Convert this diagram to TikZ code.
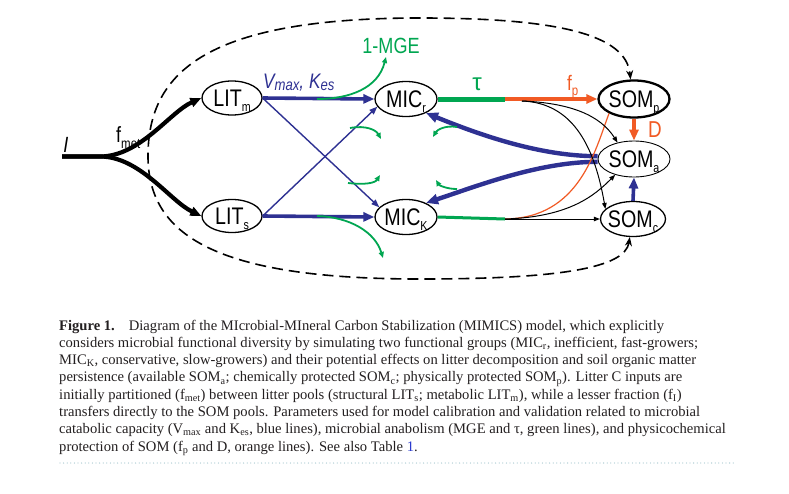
\documentclass[tikz,border=0pt]{standalone}
\usepackage{fontspec}
\setmainfont{Liberation Serif}
\newfontfamily\dsf[FakeStretch=0.82]{Liberation Sans}
\newfontfamily\rsf{Liberation Sans}
\usetikzlibrary{shapes.geometric,arrows.meta,calc}
\definecolor{mblue}{HTML}{2E3192}
\definecolor{mgreen}{HTML}{00A651}
\definecolor{morange}{HTML}{F15A24}
\definecolor{capcol}{HTML}{231F20}
\definecolor{dotcol}{HTML}{A9C9D1}
\definecolor{linkblue}{HTML}{2B3BCE}
\newcommand\poolname[2]{\raisebox{-8pt}[0pt][0pt]{\makebox[0pt]{\dsf\fontsize{24}{24}\selectfont #1\raisebox{-5pt}{\fontsize{13}{13}\selectfont #2}}}}
\begin{document}
\begin{tikzpicture}[x=1pt,y=-1pt,
  pool/.style={ellipse,draw,line width=1.3pt,inner sep=0pt,minimum width=62pt,minimum height=35pt},
  bthick/.style={mblue,line width=3.6pt,-{Triangle[length=11pt,width=9pt]}},
  bcurve/.style={mblue,line width=4.4pt,-{Triangle[length=12pt,width=10pt]}},
  bthin/.style={mblue,line width=1.4pt,-{Triangle[length=8pt,width=6pt]}},
  othick/.style={morange,line width=3.6pt,-{Triangle[length=11pt,width=9pt]}},
  othin/.style={morange,line width=1.2pt},
  gthick/.style={mgreen,line width=5pt},
  gmid/.style={mgreen,line width=3pt},
  gthin/.style={mgreen,line width=1.8pt,-{Triangle[length=6pt,width=5pt]}},
  kthin/.style={black,line width=1pt,-{Triangle[length=6pt,width=4.5pt]}},
  kthick/.style={black,line width=4.2pt,-{Triangle[length=11pt,width=9pt]}},
  dashloop/.style={black,line width=1.6pt,dash pattern=on 11pt off 6pt,
     {Stealth[length=9pt,width=7pt]}-{Stealth[length=9pt,width=7pt]}},
  capline/.style={anchor=base west,inner sep=0pt,text=capcol,font=\fontsize{14.6}{17}\selectfont}
]
\fill[white] (0,0) rectangle (789,493);
\useasboundingbox (0,0) rectangle (789,493);

% pools
\node[pool,minimum width=60pt,minimum height=34pt] (LITm) at (232,98) {\poolname{LIT}{m}};
\node[pool,minimum width=60pt,minimum height=33pt] (LITs) at (232,216) {\poolname{LIT}{s}};
\node[pool] (MICr) at (406,99) {\poolname{MIC}{r}};
\node[pool] (MICK) at (406,217) {\poolname{MIC}{K}};
\node[pool,line width=2.3pt,minimum width=71pt,minimum height=37pt] (SOMp) at (634,99) {\poolname{SOM}{p}};
\node[pool,line width=0.9pt,minimum width=72pt,minimum height=36pt] (SOMa) at (634,159) {\poolname{SOM}{a}};
\node[pool,minimum width=65pt,minimum height=35pt] (SOMc) at (633,219) {\poolname{SOM}{c}};

% helper coordinates
\coordinate (Istart) at (62,156.5);
\coordinate (split) at (100,156.5);
\coordinate (jr) at (505,99);
\coordinate (jk) at (505,219);
\coordinate (kb) at (522,101);
\coordinate (gA) at (317,99);
\coordinate (gAe) at (386,57);
\coordinate (gB) at (350,128);
\coordinate (gBe) at (381,139);
\coordinate (gC) at (348,183);
\coordinate (gCe) at (380,175);
\coordinate (gD) at (317,216);
\coordinate (gDe) at (383,258);
\coordinate (gE) at (457,127);
\coordinate (gEe) at (433,137);
\coordinate (gF) at (457,189);
\coordinate (gFe) at (436,180);

% dashed direct transfer loop
\draw[dashloop] (SOMc.260) .. controls (625,268) and (560,279) .. (420,279)
   .. controls (215,279) and (148,235) .. (148,156)
   .. controls (148,70) and (210,18) .. (420,18)
   .. controls (560,18) and (626,35) .. (SOMp.100);

% inputs
\draw[kthick] (Istart) -- (split) .. controls (140,156.5) and (170,112) .. (LITm.west);
\draw[kthick] (Istart) -- (split) .. controls (140,156.5) and (170,201) .. (LITs.west);

% blue catabolic fluxes
\draw[bthick] (LITm.east) -- (MICr.west);
\draw[bthick] (LITs.east) -- (MICK.west);
\draw[bthin] (LITm.east) -- (MICK.160);
\draw[bthin] (LITs.east) -- (MICr.195);
\draw[bcurve] ($(SOMa.west)+(0,-2.8)$) .. controls (540,156.2) and (480,135) .. (MICr.-35);
\draw[bcurve] ($(SOMa.west)+(0,2.8)$) .. controls (540,161.8) and (480,185) .. (MICK.35);
\draw[bthick] (SOMc.north) -- (SOMa.south);

% green anabolism
\draw[gthick] (MICr.east) -- (jr);
\draw[gmid] (MICK.east) -- (jk);
\draw[gthin] (gA) .. controls (350,99) and (378,88) .. (gAe);
\draw[gthin] (gB) .. controls (366,125) and (376,130) .. (gBe);
\draw[gthin] (gC) .. controls (365,185) and (375,183) .. (gCe);
\draw[gthin] (gD) .. controls (350,217) and (375,232) .. (gDe);
\draw[gthin] (gE) .. controls (445,125) and (437,130) .. (gEe);
\draw[gthin] (gF) .. controls (446,189) and (439,185) .. (gFe);

% orange protection
\draw[othick] (jr) -- (SOMp.west);
\draw[othick] (SOMp.south) -- (SOMa.north);
\draw[othin] (jk) .. controls (580,218) and (595,150) .. (SOMp.210);

% black transfers
\draw[kthin] (kb) .. controls (570,103) and (600,115) .. (SOMa.135);
\draw[kthin] (kb) .. controls (575,103) and (595,150) .. (SOMc.160);
\draw[kthin] (jk) .. controls (570,217) and (595,195) .. (SOMa.220);
\draw[kthin] (jk) -- (SOMc.west);

% labels
\node[anchor=base,inner sep=0pt] (Ilab) at (66,152) {\dsf\itshape\fontsize{22}{22}\selectfont I};
\node[anchor=base west,inner sep=0pt] (fmet) at (116,142) {\dsf\fontsize{22}{22}\selectfont f\raisebox{-6pt}{\fontsize{14}{14}\selectfont met}};
\node[anchor=base west,inner sep=0pt,text=mblue] (vk) at (263,88) {\dsf\itshape\fontsize{21}{21}\selectfont V\raisebox{-2pt}{\fontsize{16}{16}\selectfont max}, K\raisebox{-2pt}{\fontsize{16}{16}\selectfont es}};
\node[inner sep=0pt,text=mgreen] (mge) at (391,46) {\dsf\fontsize{22}{22}\selectfont 1-MGE};
\node[inner sep=0pt,text=mgreen] (tau) at (477,84) {\rsf\fontsize{24}{24}\selectfont τ};
\node[anchor=base west,inner sep=0pt,text=morange] (fp) at (567,90) {\dsf\fontsize{21}{21}\selectfont f\raisebox{-5pt}{\fontsize{14}{14}\selectfont p}};
\node[inner sep=0pt,text=morange] (Dlab) at (655,130) {\dsf\fontsize{23}{23}\selectfont D};

% caption
\node[capline] (c1) at (59,330) {\textbf{Figure 1.}\hspace{14pt}Diagram of the MIcrobial-MIneral Carbon Stabilization (MIMICS) model, which explicitly};
\node[capline] (c2) at (59,347.3) {considers microbial functional diversity by simulating two functional groups (MIC\textsubscript{r}, inefficient, fast-growers;};
\node[capline] (c3) at (59,364.6) {MIC\textsubscript{K}, conservative, slow-growers) and their potential effects on litter decomposition and soil organic matter};
\node[capline] (c4) at (59,381.9) {persistence (available SOM\textsubscript{a}; chemically protected SOM\textsubscript{c}; physically protected SOM\textsubscript{p}). Litter C inputs are};
\node[capline] (c5) at (59,399.2) {initially partitioned (f\textsubscript{met}) between litter pools (structural LIT\textsubscript{s}; metabolic LIT\textsubscript{m}), while a lesser fraction (f\textsubscript{I})};
\node[capline] (c6) at (59,416.5) {transfers directly to the SOM pools. Parameters used for model calibration and validation related to microbial};
\node[capline] (c7) at (59,433.8) {catabolic capacity (V\textsubscript{max} and K\textsubscript{es}, blue lines), microbial anabolism (MGE and τ, green lines), and physicochemical};
\node[capline] (c8) at (59,451.1) {protection of SOM (f\textsubscript{p} and D, orange lines). See also Table \textcolor{linkblue}{1}.};
\draw[dotcol,line width=1.3pt,dash pattern=on 0pt off 3.6pt,line cap=round] (60,463) -- (735,463);
\end{tikzpicture}
\end{document}
